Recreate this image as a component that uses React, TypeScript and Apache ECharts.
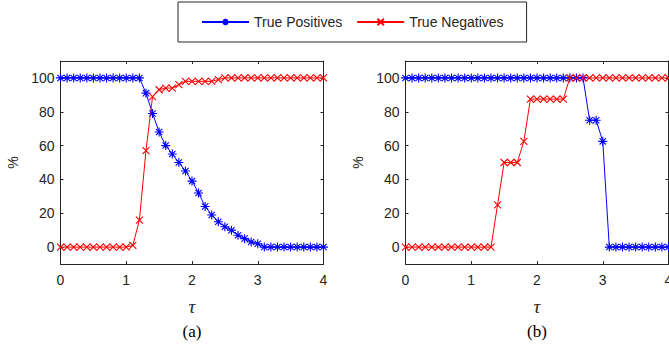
import React, { useEffect, useRef } from "react";
import * as echarts from "echarts";

const tau = [
  0, 0.1, 0.2, 0.3, 0.4, 0.5, 0.6, 0.7, 0.8, 0.9, 1.0, 1.1, 1.2, 1.3, 1.4, 1.5, 1.6, 1.7, 1.8, 1.9, 2.0,
  2.1, 2.2, 2.3, 2.4, 2.5, 2.6, 2.7, 2.8, 2.9, 3.0, 3.1, 3.2, 3.3, 3.4, 3.5, 3.6, 3.7, 3.8, 3.9, 4.0,
];

// (a)
const truePositivesA = [
  100, 100, 100, 100, 100, 100, 100, 100, 100, 100, 100, 100, 100,
  91, 79, 68, 60, 55, 50, 45, 39, 32, 24, 19, 15, 12, 10, 7, 5, 3, 2,
  0, 0, 0, 0, 0, 0, 0, 0, 0, 0,
];
const trueNegativesA = [
  0, 0, 0, 0, 0, 0, 0, 0, 0, 0, 0,
  1, 16, 57, 89, 93, 94, 94, 96, 98, 98, 98, 98, 98, 99,
  100, 100, 100, 100, 100, 100, 100, 100, 100, 100, 100, 100, 100, 100, 100, 100,
];

// (b)
const truePositivesB = [
  100, 100, 100, 100, 100, 100, 100, 100, 100, 100, 100, 100, 100, 100,
  100, 100, 100, 100, 100, 100, 100, 100, 100, 100, 100, 100, 100, 100,
  75, 75, 62.5,
  0, 0, 0, 0, 0, 0, 0, 0, 0, 0,
];
const trueNegativesB = [
  0, 0, 0, 0, 0, 0, 0, 0, 0, 0, 0, 0, 0, 0,
  25, 50, 50, 50, 62.5, 87.5, 87.5, 87.5, 87.5, 87.5, 87.5,
  100, 100, 100, 100, 100, 100, 100, 100, 100, 100, 100, 100, 100, 100, 100, 100,
];

const xTicks = [0, 1, 2, 3, 4];
const yTicks = [0, 20, 40, 60, 80, 100];
const seriesNames = ["True Positives", "True Negatives"];
const panelLabels = ["(a)", "(b)"];

const INK = "#262626";
const FONT = "Liberation Sans, Arial, Helvetica, sans-serif";
const ASTERISK = "path://M4,0L4,8M0,4L8,4M1.2,1.2L6.8,6.8M1.2,6.8L6.8,1.2";
const CROSS = "path://M0,0L7,7M0,7L7,0";

const pairs = (vals: number[]) => vals.map((v, i) => [tau[i], v]);

export default function App() {
  const ref = useRef<HTMLDivElement>(null);

  useEffect(() => {
    document.body.style.margin = "0";
    if (!ref.current) return;
    const chart = echarts.init(ref.current, null, { renderer: "svg" });

    const grids = [
      { left: 60.5, top: 61, width: 263, height: 203, containLabel: false, outerBoundsMode: "none" },
      { left: 405.5, top: 61, width: 263, height: 203, containLabel: false, outerBoundsMode: "none" },
    ];

    const xAxes: any[] = [];
    const yAxes: any[] = [];
    grids.forEach((_, g) => {
      const common = {
        gridIndex: g,
        type: "value",
        min: 0,
        max: 4,
        interval: 1,
        axisLine: { show: true, onZero: false, lineStyle: { color: INK, width: 1 } },
        axisTick: { show: true, inside: true, length: 3, lineStyle: { color: INK } },
        splitLine: { show: false },
      };
      xAxes.push({
        ...common,
        position: "bottom",
        axisLabel: { show: true, color: INK, fontFamily: FONT, fontSize: 14, margin: 9, customValues: xTicks },
      });
      xAxes.push({ ...common, position: "top", axisLabel: { show: false } });
      const ycommon = {
        gridIndex: g,
        type: "value",
        min: -10,
        max: 110,
        axisLine: { show: true, onZero: false, lineStyle: { color: INK, width: 1 } },
        axisTick: { show: true, inside: true, length: 3, lineStyle: { color: INK }, customValues: yTicks },
        splitLine: { show: false },
      };
      yAxes.push({
        ...ycommon,
        position: "left",
        axisLabel: { show: true, color: INK, fontFamily: FONT, fontSize: 14, margin: 6, customValues: yTicks },
      });
      yAxes.push({ ...ycommon, position: "right", axisLabel: { show: false } });
    });

    const mk = (name: string, data: number[], g: number, color: string, symbol: string, size: number) => ({
      name,
      type: "line",
      xAxisIndex: g * 2,
      yAxisIndex: g * 2,
      data: pairs(data),
      symbol,
      symbolSize: size,
      showSymbol: true,
      showAllSymbol: true,
      lineStyle: { color, width: 1 },
      itemStyle: { color, borderColor: color, borderWidth: 1.1 },
      emphasis: { disabled: true },
    });

    const series = [
      mk(seriesNames[0], truePositivesA, 0, "#0000FF", ASTERISK, 9),
      mk(seriesNames[1], trueNegativesA, 0, "#FF0000", CROSS, 7),
      mk(seriesNames[0], truePositivesB, 1, "#0000FF", ASTERISK, 9),
      mk(seriesNames[1], trueNegativesB, 1, "#FF0000", CROSS, 7),
    ];

    const graphics: any[] = [];
    grids.forEach((gr, g) => {
      const cx = gr.left + gr.width / 2;
      const cy = gr.top + gr.height / 2;
      graphics.push({
        type: "text",
        x: cx,
        y: 306,
        style: {
          text: "τ",
          fill: INK,
          font: "italic 19px 'Liberation Serif', 'Times New Roman', serif",
          align: "center",
          verticalAlign: "middle",
        },
      });
      graphics.push({
        type: "text",
        x: cx,
        y: 331,
        style: {
          text: panelLabels[g],
          fill: "#000",
          font: "17px 'Liberation Serif', 'Times New Roman', serif",
          align: "center",
          verticalAlign: "middle",
        },
      });
      graphics.push({
        type: "text",
        x: gr.left - 48,
        y: cy,
        rotation: Math.PI / 2,
        style: {
          text: "%",
          fill: INK,
          font: `14px ${FONT}`,
          align: "center",
          verticalAlign: "middle",
        },
      });
    });

    chart.setOption({
      animation: false,
      backgroundColor: "#fff",
      legend: {
        data: seriesNames,
        left: 178,
        top: 2,
        orient: "horizontal",
        padding: [13, 23],
        itemGap: 14,
        itemWidth: 47,
        itemHeight: 8,
        borderColor: INK,
        borderWidth: 1,
        backgroundColor: "#fff",
        selectedMode: false,
        textStyle: { color: INK, fontFamily: FONT, fontSize: 14 },
      },
      grid: grids,
      xAxis: xAxes,
      yAxis: yAxes,
      series,
      graphic: graphics,
    });

    return () => chart.dispose();
  }, []);

  return <div ref={ref} style={{ width: 669, height: 352 }} />;
}
